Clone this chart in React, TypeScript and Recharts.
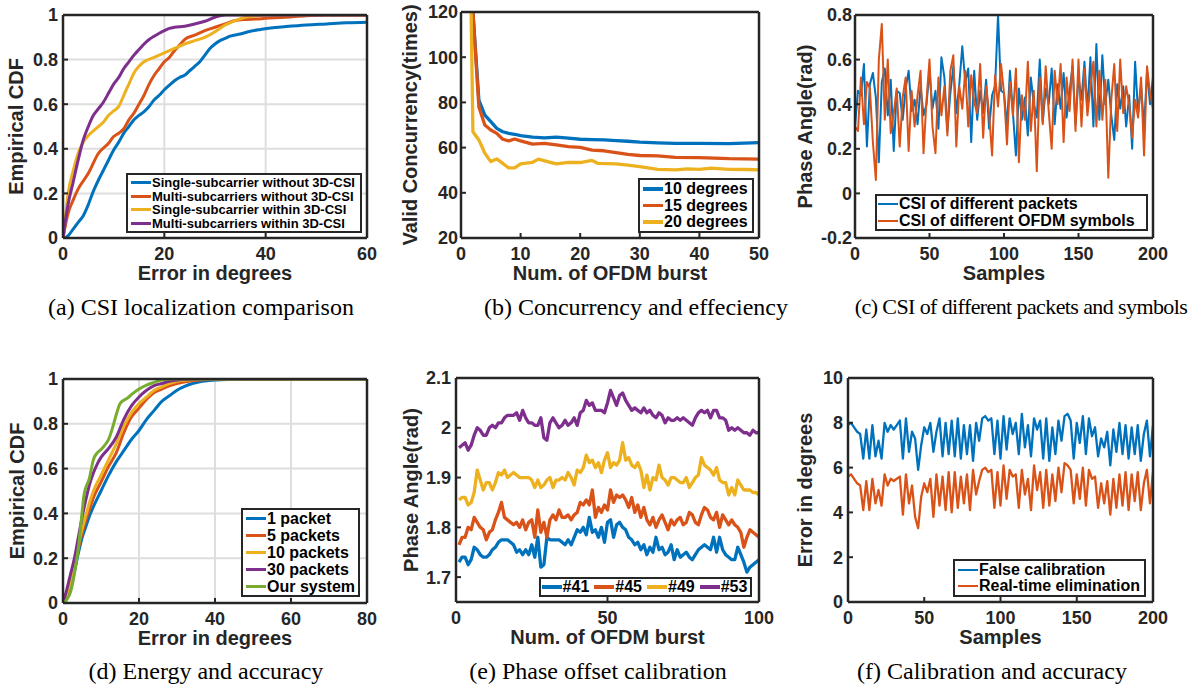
import React from 'react';
import { LineChart, Line, XAxis, YAxis, CartesianGrid, Legend } from 'recharts';

const BLUE = '#0072BD';
const ORANGE = '#D95319';
const YELLOW = '#EDB120';
const PURPLE = '#7E2F8E';
const GREEN = '#77AC30';
const INK = '#262626';
const SANS = '"Liberation Sans", Arial, Helvetica, sans-serif';
const SERIF = '"Liberation Serif", "Times New Roman", serif';

type Pt = [number, number];

// (a) CSI localization comparison - CDF points [error, cdf]
const singleNo3D: Pt[] = [[0,0],[1,0.01],[2,0.04],[3,0.07],[4,0.1],[5,0.15],[6,0.21],[7,0.26],[8,0.305],[9,0.35],[10,0.395],[11,0.43],[12,0.47],[13,0.5],[14,0.53],[15,0.55],[16,0.567],[17,0.59],[18,0.62],[19,0.64],[20,0.665],[21,0.685],[22,0.705],[23,0.72],[24,0.73],[25,0.75],[26,0.77],[27,0.79],[28,0.82],[29,0.85],[30,0.87],[31,0.885],[32,0.895],[33,0.905],[35,0.915],[37,0.927],[39,0.935],[41,0.942],[44,0.948],[48,0.955],[52,0.96],[56,0.965],[60,0.968]];
const multiNo3D: Pt[] = [[0,0],[1,0.11],[2,0.17],[3,0.22],[5,0.29],[7,0.38],[9,0.425],[10,0.455],[11,0.47],[12,0.49],[13,0.53],[14,0.56],[15,0.6],[16,0.64],[17,0.69],[18,0.73],[19,0.76],[20,0.79],[21,0.81],[22,0.84],[23,0.865],[24,0.89],[26,0.91],[28,0.93],[30,0.945],[32,0.96],[34,0.975],[36,0.98],[38,0.982],[40,0.985],[44,0.99],[48,0.997],[52,1],[60,1]];
const singleWith3D: Pt[] = [[0,0],[0.5,0.1],[1,0.2],[2,0.3],[3,0.38],[4,0.43],[5,0.46],[6,0.48],[7,0.5],[8,0.52],[9,0.55],[10,0.57],[11,0.59],[12,0.64],[13,0.69],[14,0.74],[15,0.77],[16,0.79],[18,0.81],[20,0.83],[22,0.85],[24,0.87],[26,0.885],[28,0.9],[30,0.925],[32,0.955],[34,0.975],[36,0.99],[38,0.995],[40,1],[60,1]];
const multiWith3D: Pt[] = [[0,0],[0.5,0.08],[1,0.15],[2,0.25],[3,0.35],[4,0.44],[5,0.5],[6,0.55],[7,0.58],[8,0.61],[9,0.65],[10,0.69],[11,0.72],[12,0.76],[13,0.79],[14,0.82],[15,0.845],[16,0.87],[17,0.89],[18,0.905],[19,0.918],[20,0.93],[21,0.94],[22,0.945],[24,0.95],[26,0.96],[28,0.972],[30,0.99],[32,1],[60,1]];

// (b) Concurrency and effeciency
const burstX = [2,3,4,5,6,7,8,9,10,12,14,16,18,20,22,24,26,28,30,33,36,40,45,50];
const deg10 = [120,81,74.4,71.5,68.5,67,66.3,65.9,65.3,64.6,64.3,64.6,64.2,63.7,63.5,63.4,63.1,62.8,62.4,62.1,61.9,61.9,61.8,62.2];
const deg15 = [120,78,70,67.8,66.3,63.7,63,63.8,63,61.5,61.9,61.2,60.4,60.1,58.9,58.6,57.8,57,56.5,56.3,55.7,55.6,55.1,54.9];
const burstX20 = [1.7,2,3,4,5,6,7,8,9,10,12,13,15,16,18,20,22,23,26,28,30,33,36,38,40,42,45,48,50];
const deg20 = [120,67,63.4,57.5,53.8,55,53,51,51,52.8,53.5,54.9,53.5,52.8,53.5,53.4,54.3,53,52.8,52.2,51.6,50.4,50.1,50.6,50.4,50.9,50.4,50.3,50.1];

// (c) CSI of different packets and symbols, every 2nd sample 0..200
const csiPackets = [0.30,0.46,0.44,0.58,0.21,0.49,0.54,0.43,0.14,0.50,
  0.56,0.35,0.51,0.19,0.46,0.45,0.33,0.47,0.55,0.37,
  0.42,0.31,0.48,0.35,0.40,0.55,0.38,0.46,0.29,0.61,
  0.52,0.28,0.45,0.57,0.36,0.49,0.66,0.50,0.56,0.23,
  0.55,0.33,0.46,0.36,0.51,0.29,0.44,0.48,0.80,0.46,
  0.45,0.30,0.55,0.36,0.17,0.47,0.33,0.43,0.26,0.52,
  0.40,0.34,0.60,0.32,0.47,0.40,0.56,0.31,0.49,0.38,
  0.54,0.34,0.46,0.57,0.31,0.52,0.42,0.59,0.37,0.61,
  0.30,0.67,0.33,0.62,0.40,0.51,0.35,0.24,0.49,0.38,
  0.48,0.30,0.44,0.20,0.59,0.36,0.48,0.30,0.55,0.40,
  0.52];
const csiSymbols = [0.30,0.28,0.52,0.31,0.50,0.47,0.23,0.06,0.60,0.76,
  0.33,0.60,0.27,0.36,0.47,0.21,0.43,0.52,0.19,0.46,
  0.30,0.44,0.55,0.18,0.42,0.60,0.30,0.18,0.52,0.35,
  0.48,0.26,0.55,0.62,0.21,0.48,0.38,0.55,0.30,0.53,
  0.41,0.36,0.58,0.25,0.48,0.36,0.17,0.53,0.39,0.58,
  0.45,0.22,0.50,0.35,0.56,0.14,0.44,0.33,0.59,0.28,
  0.46,0.10,0.52,0.31,0.57,0.37,0.20,0.55,0.40,0.58,
  0.23,0.52,0.37,0.60,0.28,0.60,0.30,0.56,0.35,0.48,
  0.59,0.30,0.55,0.33,0.51,0.07,0.42,0.58,0.28,0.60,
  0.36,0.48,0.40,0.25,0.42,0.34,0.52,0.17,0.57,0.45,
  0.38];

// (d) Energy and accuracy - CDF points
const pkt1: Pt[] = [[0,0],[1,0.03],[2,0.08],[3,0.14],[4,0.22],[5,0.29],[6,0.34],[7,0.39],[8,0.43],[10,0.5],[12,0.57],[14,0.63],[16,0.68],[18,0.73],[20,0.77],[22,0.82],[24,0.86],[26,0.9],[28,0.925],[30,0.95],[32,0.967],[34,0.98],[36,0.988],[40,0.995],[45,0.998],[50,1],[80,1]];
const pkt5: Pt[] = [[0,0],[1,0.04],[2,0.1],[3,0.17],[4,0.24],[5,0.31],[6,0.37],[7,0.42],[8,0.47],[10,0.54],[12,0.61],[14,0.67],[16,0.76],[18,0.83],[20,0.87],[22,0.91],[24,0.94],[26,0.955],[28,0.97],[30,0.98],[33,0.99],[36,0.995],[40,1],[80,1]];
const pkt10: Pt[] = [[0,0],[1,0.04],[2,0.1],[3,0.18],[4,0.26],[5,0.33],[6,0.39],[7,0.45],[8,0.5],[10,0.57],[12,0.64],[14,0.71],[16,0.79],[18,0.85],[20,0.89],[22,0.92],[24,0.95],[26,0.965],[28,0.98],[30,0.99],[34,0.997],[40,1],[80,1]];
const pkt30: Pt[] = [[0,0],[1,0.06],[2,0.13],[3,0.2],[4,0.29],[5,0.38],[6,0.46],[7,0.53],[8,0.58],[9,0.62],[10,0.65],[12,0.69],[14,0.74],[16,0.82],[18,0.88],[20,0.92],[22,0.95],[24,0.97],[26,0.98],[28,0.99],[32,0.998],[36,1],[80,1]];
const ourSystem: Pt[] = [[0,0],[1,0.015],[2,0.05],[3,0.13],[4,0.24],[5,0.4],[5.5,0.48],[7,0.56],[8,0.64],[9,0.67],[10,0.685],[11,0.705],[12,0.73],[13,0.78],[14,0.84],[15,0.89],[16,0.905],[17,0.915],[18,0.93],[20,0.955],[22,0.973],[24,0.985],[26,0.995],[29,1],[80,1]];

// (e) Phase offset calibration, bursts 1..100
const sub41 = [1.73,1.74,1.74,1.725,1.735,1.76,1.755,1.745,1.74,1.74,
  1.745,1.755,1.76,1.77,1.775,1.775,1.775,1.77,1.765,1.75,
  1.755,1.745,1.755,1.745,1.765,1.74,1.78,1.72,1.725,1.78,
  1.775,1.775,1.775,1.775,1.77,1.765,1.775,1.765,1.78,1.795,
  1.79,1.8,1.785,1.82,1.79,1.795,1.78,1.8,1.77,1.81,
  1.815,1.78,1.805,1.81,1.8,1.795,1.78,1.775,1.765,1.77,
  1.755,1.765,1.745,1.76,1.75,1.78,1.755,1.76,1.745,1.75,
  1.765,1.735,1.755,1.74,1.745,1.75,1.74,1.735,1.745,1.755,
  1.76,1.765,1.76,1.755,1.78,1.75,1.78,1.755,1.745,1.74,
  1.735,1.735,1.76,1.745,1.73,1.71,1.72,1.725,1.73,1.735];
const sub45 = [1.765,1.78,1.78,1.8,1.795,1.82,1.81,1.8,1.795,1.775,
  1.79,1.795,1.815,1.83,1.85,1.82,1.815,1.81,1.805,1.81,
  1.8,1.815,1.795,1.81,1.815,1.78,1.835,1.79,1.81,1.78,
  1.815,1.825,1.815,1.835,1.82,1.82,1.825,1.815,1.825,1.83,
  1.85,1.845,1.855,1.845,1.875,1.82,1.84,1.83,1.845,1.835,
  1.875,1.85,1.865,1.86,1.865,1.855,1.84,1.86,1.83,1.845,
  1.82,1.84,1.815,1.805,1.82,1.8,1.815,1.825,1.81,1.795,
  1.815,1.805,1.815,1.82,1.805,1.81,1.83,1.825,1.81,1.805,
  1.825,1.84,1.835,1.82,1.815,1.83,1.8,1.825,1.815,1.805,
  1.815,1.805,1.8,1.79,1.76,1.78,1.795,1.79,1.785,1.78];
const sub49 = [1.855,1.86,1.86,1.845,1.85,1.87,1.915,1.895,1.875,1.89,
  1.89,1.875,1.89,1.91,1.905,1.915,1.9,1.905,1.91,1.905,
  1.9,1.9,1.9,1.9,1.895,1.88,1.895,1.88,1.885,1.895,
  1.9,1.88,1.895,1.895,1.9,1.895,1.91,1.9,1.885,1.915,
  1.91,1.92,1.945,1.93,1.935,1.92,1.93,1.91,1.935,1.95,
  1.92,1.93,1.925,1.935,1.97,1.935,1.94,1.925,1.92,1.93,
  1.915,1.88,1.905,1.875,1.9,1.895,1.925,1.9,1.895,1.885,
  1.9,1.9,1.895,1.89,1.89,1.9,1.88,1.89,1.9,1.905,
  1.94,1.925,1.92,1.915,1.905,1.92,1.895,1.89,1.89,1.865,
  1.88,1.865,1.895,1.885,1.875,1.875,1.875,1.87,1.87,1.865];
const sub53 = [1.96,1.965,1.97,1.955,1.965,1.985,2.0,1.995,1.985,1.985,
  2.0,2.005,2.0,2.01,2.01,2.02,2.025,2.025,2.025,2.03,
  2.015,2.035,2.02,2.01,2.01,2.005,2.005,2.02,1.98,1.975,
  2.01,2.02,2.01,2.0,2.005,2.015,2.005,2.01,2.02,2.005,
  2.03,2.035,2.055,2.045,2.05,2.035,2.035,2.035,2.03,2.05,
  2.075,2.06,2.045,2.065,2.07,2.055,2.045,2.035,2.04,2.035,
  2.03,2.04,2.03,2.035,2.025,2.02,2.03,2.025,2.01,2.02,
  2.015,2.015,2.02,2.015,2.02,2.015,2.01,2.005,2.02,2.03,
  2.035,2.03,2.035,2.02,2.035,2.035,2.02,2.02,2.015,1.995,
  2.0,1.995,2.0,1.995,1.99,1.99,1.985,1.995,1.99,1.99];

// (f) Calibration and accuracy, every 2nd sample 0..200
const falseCal = [7.9,8.0,7.8,7.6,7.5,6.4,7.7,6.4,7.9,6.5,
  7.2,6.4,8.0,7.6,7.9,7.7,7.9,8.1,6.4,8.2,
  6.7,7.6,7.3,5.9,7.0,7.8,7.5,8.0,6.7,7.6,
  8.2,6.5,8.0,6.6,8.1,6.5,8.2,6.4,7.9,6.6,
  7.9,6.3,8.0,7.2,8.2,8.3,8.1,8.2,6.6,8.1,
  6.4,8.3,6.8,8.2,7.5,8.0,6.6,8.4,6.9,7.9,
  6.5,8.2,7.7,8.1,6.4,8.2,6.3,7.8,6.6,8.1,
  7.2,8.3,8.4,8.1,6.4,8.0,7.1,8.3,6.6,8.2,
  7.4,7.8,6.5,7.3,6.9,7.6,6.1,7.7,6.7,8.0,
  6.6,7.9,6.4,7.8,6.6,7.9,6.3,7.5,8.1,6.5,
  7.9];
const realTime = [5.6,5.7,5.5,5.3,5.2,4.1,5.4,4.1,5.5,4.4,
  5.0,4.3,5.7,5.2,5.5,5.4,5.5,5.6,3.9,5.7,
  4.4,5.2,3.8,3.3,4.7,5.3,4.9,5.5,3.8,5.7,
  4.3,5.6,4.1,5.8,4.0,5.8,4.2,5.6,4.4,5.7,
  4.1,5.9,4.8,5.4,5.9,6.0,5.8,5.9,4.2,5.8,
  4.3,6.1,4.6,5.9,5.6,5.7,4.2,5.9,4.8,5.5,
  4.1,6.1,5.0,5.8,4.2,5.9,4.3,5.7,4.5,6.0,
  4.9,6.2,6.1,5.9,4.4,5.7,4.6,6.0,4.3,5.9,
  5.5,5.6,4.2,5.3,4.4,5.4,3.9,5.5,4.2,5.7,
  4.3,5.8,4.1,5.7,4.5,5.8,4.1,5.3,5.9,4.4,
  5.8];

const pts = (p: Pt[]) => p.map(([x, y]) => ({ x, y }));
const zip = (xs: number[], ys: number[]) => ys.map((y, i) => ({ x: xs[i], y }));
const every2 = (ys: number[]) => ys.map((y, i) => ({ x: i * 2, y }));
const from1 = (ys: number[]) => ys.map((y, i) => ({ x: i + 1, y }));
const fmt = (v: number) => String(Math.round(v * 100) / 100);

const xTitle = (text: string) => (p: any) => {
  const vb = p.viewBox;
  return (
    <text x={vb.x + vb.width / 2} y={vb.y + 42} textAnchor="middle" fill={INK}
      fontSize={20} fontWeight={700} fontFamily={SANS}>{text}</text>
  );
};

const yTitle = (text: string, dx: number) => (p: any) => {
  const vb = p.viewBox;
  const x = vb.x + vb.width + dx;
  const y = vb.y + vb.height / 2;
  return (
    <text x={x} y={y} transform={`rotate(-90 ${x} ${y})`} textAnchor="middle" fill={INK}
      fontSize={20} fontWeight={700} fontFamily={SANS}>{text}</text>
  );
};

function LegendBox({ lg, series, lw }: any) {
  return (
    <div style={{
      width: lg.w, height: lg.h, boxSizing: 'border-box', border: `2px solid ${INK}`, background: '#fff',
      display: 'flex', flexDirection: lg.horizontal ? 'row' : 'column', justifyContent: 'center',
      alignItems: lg.horizontal ? 'center' : 'flex-start', paddingLeft: lg.pad ?? 3,
      fontFamily: SANS, fontWeight: 700, fontSize: lg.fontSize, color: '#000',
    }}>
      {series.map((s: any) => (
        <div key={s.name} style={{ display: 'flex', alignItems: 'center', height: lg.rowH, marginRight: lg.horizontal ? 5 : 0 }}>
          <span style={{ display: 'inline-block', width: 20, height: lw, background: s.color, marginRight: 1 }} />
          <span style={{ whiteSpace: 'nowrap', lineHeight: 1 }}>{s.name}</span>
        </div>
      ))}
    </div>
  );
}

// plot area of each panel is placed by box (page pixels)
function Panel(props: any) {
  const { box, xDomain, xTicks, yDomain, yTicks, xLabel, yLabel, yLabelDx, grid, series, lw, legend, curve = 'linear', yTickMargin = 10 } = props;
  const left = box.L - 80;
  const top = box.T - 15;
  const w = box.R - box.L + 80 + 30;
  const h = box.B - box.T + 15 + 60;
  const axisLine = { stroke: INK, strokeWidth: 2.5 };
  const tickLine = { stroke: INK, strokeWidth: 2 };
  const tick = { fill: INK, fontSize: 18, fontWeight: 700 };
  return (
    <div style={{ position: 'absolute', left, top }}>
      <LineChart width={w} height={h} margin={{ top: 14, right: 29, bottom: 0, left: 0 }} style={{ fontFamily: SANS }}>
        {grid && <CartesianGrid stroke="#dedede" strokeWidth={2} />}
        {series.map((s: any) => (
          <Line key={s.name} data={s.data} dataKey="y" type={curve} stroke={s.color} strokeWidth={lw}
            dot={false} activeDot={false} isAnimationActive={false} strokeLinejoin="round" />
        ))}
        <XAxis dataKey="x" type="number" domain={xDomain} ticks={xTicks} allowDataOverflow interval={0} height={60}
          axisLine={axisLine} tickLine={tickLine} tickSize={-5} tickMargin={14} tick={tick} tickFormatter={fmt}
          label={xTitle(xLabel)} />
        <XAxis xAxisId="top" orientation="top" dataKey="x" type="number" domain={xDomain} ticks={xTicks}
          allowDataOverflow interval={0} height={1} axisLine={axisLine} tickLine={tickLine} tickSize={-5} tick={false} />
        <YAxis type="number" domain={yDomain} ticks={yTicks} allowDataOverflow interval={0} width={80}
          axisLine={axisLine} tickLine={tickLine} tickSize={-5} tickMargin={yTickMargin} tick={tick} tickFormatter={fmt}
          label={yTitle(yLabel, yLabelDx)} />
        <YAxis yAxisId="right" orientation="right" type="number" domain={yDomain} ticks={yTicks}
          allowDataOverflow interval={0} width={1} axisLine={axisLine} tickLine={tickLine} tickSize={-5} tick={false} />
        <Legend layout="vertical" align="center" verticalAlign="middle"
          wrapperStyle={{ left: legend.x - left, top: legend.y - top, width: legend.w, height: legend.h }}
          content={() => <LegendBox lg={legend} series={series} lw={lw} />} />
      </LineChart>
    </div>
  );
}

function Caption({ cx, base, text, size = 24, tight = 0 }: any) {
  return (
    <div style={{ position: 'absolute', left: cx - 250, width: 500, top: base - 20, textAlign: 'center',
      fontFamily: SERIF, fontSize: size, lineHeight: '24px', color: '#000', whiteSpace: 'nowrap',
      letterSpacing: tight }}>{text}</div>
  );
}

export default function App() {
  const cdfTicks = [0, 0.2, 0.4, 0.6, 0.8, 1];
  return (
    <div style={{ position: 'absolute', left: 0, top: 0, width: 1199, height: 689, background: '#fff', overflow: 'hidden' }}>
      <Panel
        box={{ L: 63, T: 15, R: 367, B: 238 }}
        xDomain={[0, 60]} xTicks={[0, 20, 40, 60]} yDomain={[0, 1]} yTicks={cdfTicks}
        xLabel="Error in degrees" yLabel="Empirical CDF" yLabelDx={-40} grid curve="monotone" lw={3}
        series={[
          { name: 'Single-subcarrier without 3D-CSI', color: BLUE, data: pts(singleNo3D) },
          { name: 'Multi-subcarriers without 3D-CSI', color: ORANGE, data: pts(multiNo3D) },
          { name: 'Single-subcarrier within 3D-CSI', color: YELLOW, data: pts(singleWith3D) },
          { name: 'Multi-subcarriers within 3D-CSI', color: PURPLE, data: pts(multiWith3D) },
        ]}
        legend={{ x: 126, y: 173, w: 236, h: 60, fontSize: 13, rowH: 13.7 }}
      />
      <Panel
        box={{ L: 461, T: 12, R: 759, B: 238 }}
        xDomain={[0, 50]} xTicks={[0, 10, 20, 30, 40, 50]} yDomain={[20, 120]} yTicks={[20, 40, 60, 80, 100, 120]}
        xLabel="Num. of OFDM burst" yLabel="Valid Concurrency(times)" yLabelDx={-44} lw={3.3} yTickMargin={8}
        series={[
          { name: '10 degrees', color: BLUE, data: zip(burstX, deg10) },
          { name: '15 degrees', color: ORANGE, data: zip(burstX, deg15) },
          { name: '20 degrees', color: YELLOW, data: zip(burstX20, deg20) },
        ]}
        legend={{ x: 638, y: 178, w: 116, h: 55, fontSize: 16, rowH: 16.5 }}
      />
      <Panel
        box={{ L: 855, T: 15, R: 1153, B: 238 }}
        xDomain={[0, 200]} xTicks={[0, 50, 100, 150, 200]} yDomain={[-0.2, 0.8]} yTicks={[-0.2, 0, 0.2, 0.4, 0.6, 0.8]}
        xLabel="Samples" yLabel="Phase Angle(rad)" yLabelDx={-43} lw={2} yTickMargin={8}
        series={[
          { name: 'CSI of different packets', color: BLUE, data: every2(csiPackets) },
          { name: 'CSI of different OFDM symbols', color: ORANGE, data: every2(csiSymbols) },
        ]}
        legend={{ x: 875, y: 194, w: 273, h: 37, fontSize: 16, rowH: 16.5, pad: 1 }}
      />
      <Panel
        box={{ L: 63, T: 379, R: 367, B: 603 }}
        xDomain={[0, 80]} xTicks={[0, 20, 40, 60, 80]} yDomain={[0, 1]} yTicks={cdfTicks}
        xLabel="Error in degrees" yLabel="Empirical CDF" yLabelDx={-39} grid curve="monotone" lw={3}
        series={[
          { name: '1 packet', color: BLUE, data: pts(pkt1) },
          { name: '5 packets', color: ORANGE, data: pts(pkt5) },
          { name: '10 packets', color: YELLOW, data: pts(pkt10) },
          { name: '30 packets', color: PURPLE, data: pts(pkt30) },
          { name: 'Our system', color: GREEN, data: pts(ourSystem) },
        ]}
        legend={{ x: 241, y: 508, w: 119, h: 89, fontSize: 16, rowH: 17 }}
      />
      <Panel
        box={{ L: 456, T: 378, R: 759, B: 602 }}
        xDomain={[0, 100]} xTicks={[0, 50, 100]} yDomain={[1.65, 2.1]} yTicks={[1.7, 1.8, 1.9, 2, 2.1]}
        xLabel="Num. of OFDM burst" yLabel="Phase Angle(rad)" yLabelDx={-38} lw={3.3}
        series={[
          { name: '#41', color: BLUE, data: from1(sub41) },
          { name: '#45', color: ORANGE, data: from1(sub45) },
          { name: '#49', color: YELLOW, data: from1(sub49) },
          { name: '#53', color: PURPLE, data: from1(sub53) },
        ]}
        legend={{ x: 539, y: 577, w: 213, h: 20, fontSize: 16, rowH: 16, horizontal: true, pad: 3 }}
      />
      <Panel
        box={{ L: 848, T: 378, R: 1153, B: 602 }}
        xDomain={[0, 200]} xTicks={[0, 50, 100, 150, 200]} yDomain={[0, 10]} yTicks={[0, 2, 4, 6, 8, 10]}
        xLabel="Samples" yLabel="Error in degrees" yLabelDx={-36} lw={2.3}
        series={[
          { name: 'False calibration', color: BLUE, data: every2(falseCal) },
          { name: 'Real-time elimination', color: ORANGE, data: every2(realTime) },
        ]}
        legend={{ x: 953, y: 559, w: 193, h: 38, fontSize: 16, rowH: 16 }}
      />
      <Caption cx={201} base={315} text="(a) CSI localization comparison" />
      <Caption cx={636} base={315} text="(b) Concurrency and effeciency" />
      <Caption cx={1021} base={315} text="(c) CSI of different packets and symbols" size={22} tight={-0.6} />
      <Caption cx={206} base={679} text="(d) Energy and accuracy" />
      <Caption cx={598} base={679} text="(e) Phase offset calibration" />
      <Caption cx={992} base={679} text="(f) Calibration and accuracy" />
    </div>
  );
}
